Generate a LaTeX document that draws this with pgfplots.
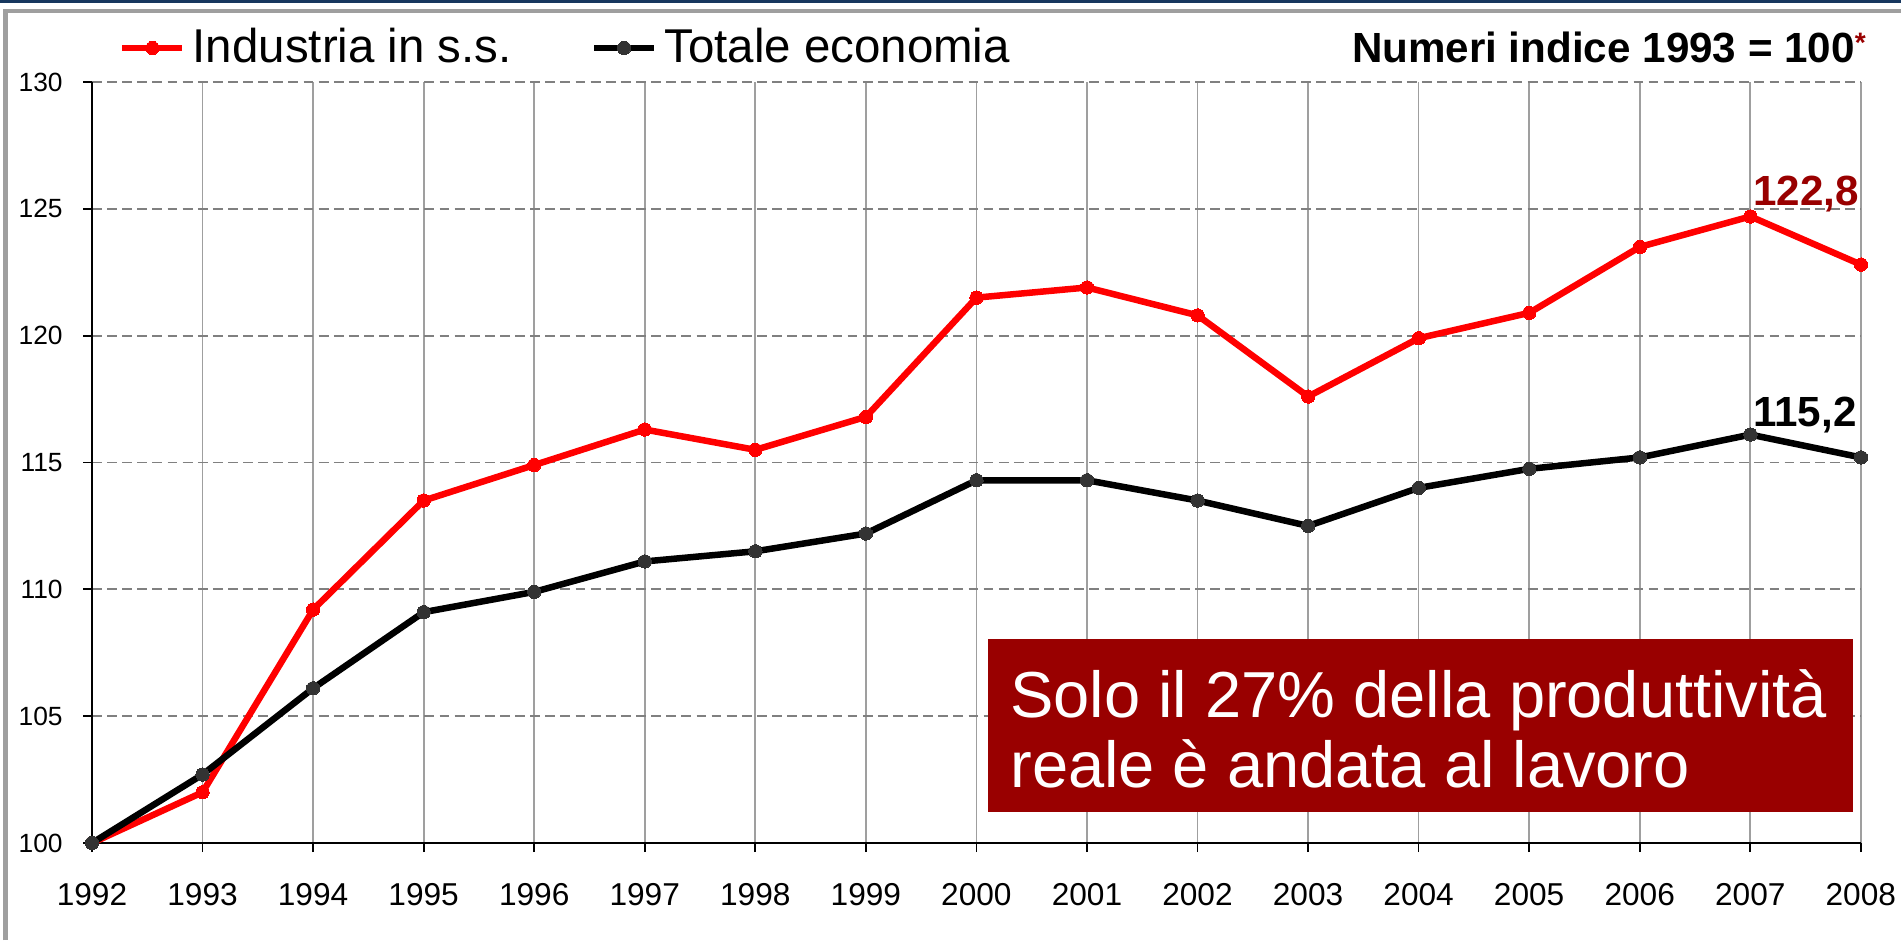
\documentclass[border=0pt]{standalone}
\usepackage{fontspec}
\setmainfont{Liberation Sans}
\usepackage{pgfplots}
\pgfplotsset{compat=1.18}
\definecolor{rosso}{HTML}{FF0000}
\definecolor{bordeaux}{HTML}{990000}
\definecolor{blu}{HTML}{17375E}
\definecolor{grigio}{HTML}{333333}

\begin{document}
\begin{tikzpicture}[x=1cm,y=1cm]
\useasboundingbox (0,0) rectangle (19.01,9.40);
\fill[white] (0,0) rectangle (19.01,9.40);
\fill[blu] (0,9.375) rectangle (19.01,9.40);
\draw[gray!75, line width=1.2pt] (0.055,0) -- (0.055,9.29) -- (19.01,9.29);
\begin{axis}[
    at={(0.92cm,0.97cm)}, anchor=south west,
    scale only axis, width=17.69cm, height=7.61cm,
    xmin=1992, xmax=2008, ymin=100, ymax=130,
    xtick={1992,...,2008}, ytick={100,105,...,130},
    axis lines*=left,
    tick align=outside,
    major tick length=0.09cm,
    tick style={black, line width=0.5pt},
    axis line style={black, line width=0.6pt},
    grid=major,
    x grid style={gray!75, line width=0.5pt},
    y grid style={gray, line width=0.5pt, dash pattern=on 2.8pt off 1.5pt},
    /pgf/number format/assume math mode=true,
    x tick label style={font=\fontsize{9}{10}\selectfont, /pgf/number format/1000 sep={}, yshift=-0.19cm},
    y tick label style={font=\fontsize{7.5}{9}\selectfont, xshift=-0.08cm},
    clip=false,
    legend columns=2,
    legend style={at={(0,1)}, anchor=west, xshift=0.16cm, yshift=0.34cm,
        draw=none, fill=none, font=\fontsize{13.5}{16}\selectfont,
        /tikz/every even column/.append style={column sep=0.72cm}},
]
\addplot[rosso, line width=1.85pt, mark=*, mark size=1.9pt, mark options={fill=rosso, draw=rosso, line width=0pt}] coordinates {
    (1992,100.0) (1993,102.0) (1994,109.2) (1995,113.5) (1996,114.9)
    (1997,116.3) (1998,115.5) (1999,116.8) (2000,121.5) (2001,121.9)
    (2002,120.8) (2003,117.6) (2004,119.9) (2005,120.9) (2006,123.5)
    (2007,124.7) (2008,122.8)
};
\addlegendentry{Industria in s.s.}
\addplot[black, line width=1.85pt, mark=*, mark size=1.9pt, mark options={fill=grigio, draw=grigio, line width=0pt}] coordinates {
    (1992,100.0) (1993,102.7) (1994,106.1) (1995,109.1) (1996,109.9)
    (1997,111.1) (1998,111.5) (1999,112.2) (2000,114.3) (2001,114.3)
    (2002,113.5) (2003,112.5) (2004,114.0) (2005,114.75) (2006,115.2)
    (2007,116.1) (2008,115.2)
};
\addlegendentry{Totale economia}

\node[anchor=base east, inner sep=0pt, font=\bfseries\fontsize{12}{14}\selectfont]
    at (axis cs:2008.05,130.75) {Numeri indice 1993 = 100\raisebox{0.45ex}{\textcolor{bordeaux}{\fontsize{8}{9}\selectfont*}}};
\node[anchor=base west, inner sep=0pt, text=bordeaux, font=\bfseries\fontsize{12}{14}\selectfont]
    at (axis cs:2007.02,125.15) {122,8};
\node[anchor=base west, inner sep=0pt, text=black, font=\bfseries\fontsize{12}{14}\selectfont]
    at (axis cs:2007.02,116.40) {115,2};

\fill[bordeaux] (axis cs:2000.10,101.23) rectangle (axis cs:2007.93,108.05);
\node[anchor=base west, inner sep=0pt, text=white, font=\fontsize{18.5}{22}\selectfont]
    at (axis cs:2000.30,104.93) {Solo il 27\% della produttività};
\node[anchor=base west, inner sep=0pt, text=white, font=\fontsize{18.5}{22}\selectfont]
    at (axis cs:2000.30,102.17) {reale è andata al lavoro};
\end{axis}
\end{tikzpicture}
\end{document}
